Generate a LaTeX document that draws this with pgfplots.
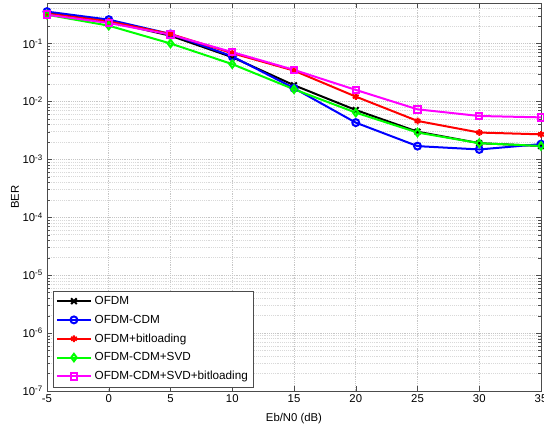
\documentclass[border=0pt]{standalone}
\usepackage{fontspec}
\setmainfont{Liberation Sans}
\usepackage{pgfplots}
\pgfplotsset{compat=1.18}
\usetikzlibrary{calc}
\definecolor{mmagenta}{rgb}{1,0,1}
\definecolor{mgreen}{rgb}{0,1,0}
\definecolor{mblue}{rgb}{0,0,1}
\definecolor{mred}{rgb}{1,0,0}

\begin{document}
\fontsize{8.5}{10}\selectfont
\begin{tikzpicture}
\begin{axis}[
  scale only axis, width=370.5pt, height=291pt,
  xmin=-5, xmax=35, ymin=1e-7, ymax=0.5, ymode=log,
  xtick={-5,0,...,35},
  xticklabel style={/pgf/number format/assume math mode=true},
  yticklabel={10\textsuperscript{\pgfmathparse{int(round(\tick/ln(10)))}\pgfmathresult}},
  tick align=inside, major tick length=4pt, minor tick length=2pt,
  axis line style={gray!60!black}, tick style={gray!60!black},
  xmajorgrids, ymajorgrids, yminorgrids,
  major grid style={densely dotted, gray!45},
  minor grid style={densely dotted, gray!30},
  xlabel={Eb/N0 (dB)}, ylabel={BER},
  xlabel style={at={(axis description cs:0.5,-0.07)}, anchor=center},
  ylabel style={at={(axis description cs:-0.065,0.5)}, anchor=center},
  legend style={at={(0.012,0.01)}, anchor=south west, draw=gray!60!black,
    fill=white, font=\fontsize{8.8}{10}\selectfont, row sep=2.6pt,
    inner sep=2pt},
  legend cell align=left,
  legend image code/.code={\draw[mark repeat=2,mark phase=2]
    plot coordinates {(0cm,0cm)(0.45cm,0cm)(0.9cm,0cm)};},
]
\addplot[color=black, line width=1.5pt, mark=x, mark size=3pt] coordinates {
  (-5,0.336)(0,0.24)(5,0.136)(10,0.058)(15,0.019)(20,0.0071)
  (25,0.0030)(30,0.0019)(35,0.0017)};
\addlegendentry{OFDM}
\addplot[color=mblue, line width=1.5pt, mark=o, mark size=2.6pt] coordinates {
  (-5,0.355)(0,0.258)(5,0.146)(10,0.06)(15,0.0169)(20,0.0043)
  (25,0.00169)(30,0.00148)(35,0.00183)};
\addlegendentry{OFDM-CDM}
\addplot[color=mred, line width=1.5pt, mark=asterisk, mark size=2.5pt] coordinates {
  (-5,0.327)(0,0.24)(5,0.146)(10,0.068)(15,0.034)(20,0.0121)
  (25,0.0046)(30,0.0029)(35,0.0027)};
\addlegendentry{OFDM+bitloading}
\addplot[color=mgreen, line width=1.5pt, mark=diamond, mark size=2.8pt] coordinates {
  (-5,0.314)(0,0.203)(5,0.10)(10,0.044)(15,0.0162)(20,0.0064)
  (25,0.0029)(30,0.0019)(35,0.0017)};
\addlegendentry{OFDM-CDM+SVD}
\addplot[color=mmagenta, line width=1.5pt, mark=square, mark size=2.4pt] coordinates {
  (-5,0.314)(0,0.226)(5,0.142)(10,0.071)(15,0.035)(20,0.0158)
  (25,0.0073)(30,0.0056)(35,0.0053)};
\addlegendentry{OFDM-CDM+SVD+bitloading}
\end{axis}
\pgfresetboundingbox
\path[use as bounding box] ($(current axis.south west)+(-35.25pt,-29.25pt)$)
  rectangle ($(current axis.north east)+(2.25pt,2.25pt)$);
\end{tikzpicture}
\end{document}
